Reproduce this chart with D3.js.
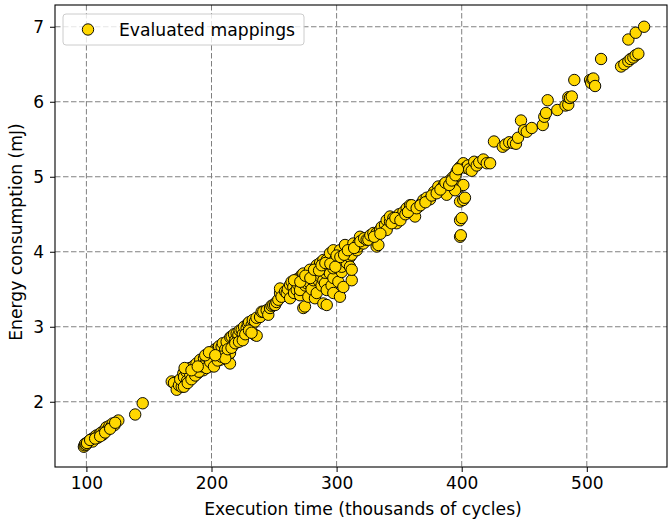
<!DOCTYPE html>
<html>
<head>
<meta charset="utf-8">
<script src="https://cdn.jsdelivr.net/npm/d3@7"></script>
<style>
  body { margin: 0; background: #fff; }
  svg { display: block; font-family: "DejaVu Sans", sans-serif; }
</style>
</head>
<body>
<svg id="chart" width="668" height="526"></svg>
<script>
// Execution time (thousands of cycles)
const executionTime = [
  98.0,98.5,99.0,100.0,101,102.5,104,105,106.5,108,109,110.5,112,113,114.5,116,117,118.5,120,121,122.5,125.5,
  100.5,103,107,111,115,119,123,
  139,145,
  168.2,170,172.2,174,176.2,175,177.5,178,180,180.5,182.8,183,185.5,186,187,188,189,190.8,191,192,193.5,194,195,196,197,198.8,199,200.5,201.5,202,203,204.1,205,206,207,208.1,209,210,211,212.1,213.5,214.8,214.8,215,216.1,217,218,219,220.1,221.5,222.5,224.1,225,226,228.1,229,230,232.1,233,234.8,234.8,236.1,236,238.8,240.1,241.4,
  178,181,184,187,190,193,196,199,202,205,208,211,213,216,219,222,225,227,230,232,178.5,184,189,195,198,203,
  244.1,245.4,246.8,248,249.4,250.8,252,253.4,254.8,254.8,256,258.8,260.1,261,262.8,262.8,
  264,265.4,266,268.1,268.1,269,270.8,270.8,272.1,273.4,273.4,273.4,274.7,275,276.1,276.1,277.4,278.7,278.7,278.7,280,281.4,282.7,283,284.1,284.1,284.1,285.4,286.7,286.8,288,289.4,289.4,289.4,290.7,291,292.1,292.1,292.1,292.1,294.7,294.7,296,297.4,297.4,297.4,297.4,299,301.4,302.7,302.7,302.7,304.1,304.1,305.4,306.7,308.1,310.7,310.7,312.1,312.1,312.1,313.4,316.1,317.4,317.4,318.7,321.4,
  266,271,275,279,282,286,288,291,295,299,300,303,306,309,314,319,322,
  324,325.4,327,329.4,332,332,333.4,334.7,336,338.7,340,340,342.7,342.7,345.4,348,350,352,353.4,356,358.7,361.4,362.7,365.4,368,369.4,372,374.7,378,381.3,384,386,388,389.3,391,393.3,396,396,398.7,398.7,401.3,401.3,398.7,401.3,402.6,398.7,400,398.7,399.3,388,394.7,403,405,
  330,335,344,347,351,355,357,360,364,367,371,376,380,383,387,390,392,395,397,
  406,408,410,412,414,417.3,420,422.7,425.8,432.8,435,438,441,443.4,445,447.4,449.8,452,456,464.8,466,467.4,468.7,476.4,483,485.2,485.2,486.5,488,490,502.6,503.5,504.5,505.2,506.6,511.4,527.4,530,533.2,535,537.2,539,541.2,533.2,539.1,545.8
];
// Energy consumption (mJ)
const energy = [
  1.40,1.42,1.44,1.43,1.46,1.48,1.50,1.47,1.53,1.55,1.52,1.57,1.59,1.56,1.62,1.66,1.63,1.68,1.67,1.71,1.69,1.75,
  1.45,1.49,1.51,1.54,1.59,1.64,1.72,
  1.83,1.98,
  2.27,2.25,2.16,2.22,2.20,2.30,2.38,2.33,2.40,2.28,2.45,2.36,2.33,2.48,2.42,2.51,2.38,2.51,2.56,2.45,2.42,2.58,2.50,2.55,2.62,2.60,2.47,2.66,2.51,2.58,2.70,2.69,2.63,2.74,2.56,2.73,2.78,2.65,2.70,2.80,2.62,2.51,2.65,2.86,2.87,2.75,2.90,2.82,2.91,2.89,2.95,2.96,2.90,3.00,2.98,3.04,3.06,3.02,3.09,3.07,2.89,2.88,3.12,3.13,3.20,3.20,
  2.20,2.25,2.30,2.35,2.40,2.47,2.45,2.53,2.47,2.55,2.60,2.58,2.70,2.72,2.78,2.80,2.82,2.90,2.95,2.92,2.45,2.42,2.47,2.62,2.66,2.62,
  3.22,3.16,3.25,3.28,3.29,3.29,3.33,3.36,3.45,3.51,3.40,3.47,3.45,3.50,3.38,3.56,
  3.60,3.53,3.45,3.49,3.58,3.64,3.42,3.49,3.69,3.25,3.67,3.71,3.27,3.55,3.58,3.62,3.40,3.73,3.76,3.58,3.50,3.62,3.38,3.70,3.45,3.80,3.82,3.62,3.67,3.85,3.55,3.31,3.62,3.89,3.58,3.72,3.29,3.49,3.76,3.89,3.71,3.98,3.55,3.45,3.65,3.78,4.02,3.90,3.60,3.40,3.87,4.02,3.73,3.80,3.53,4.09,3.85,3.93,3.80,3.62,3.76,3.96,4.11,4.02,4.07,4.11,4.20,4.11,
  3.62,3.60,3.68,3.65,3.76,3.75,3.82,3.85,3.84,3.80,3.95,3.93,3.96,4.02,4.05,4.14,4.18,
  4.16,4.16,4.22,4.25,4.07,4.25,4.09,4.29,4.33,4.36,4.42,4.29,4.40,4.47,4.45,4.38,4.50,4.47,4.53,4.58,4.62,4.56,4.47,4.60,4.65,4.69,4.72,4.70,4.80,4.87,4.85,4.90,4.87,4.93,4.96,5.00,5.07,4.91,5.13,4.87,4.89,5.18,4.67,4.69,4.72,4.42,4.45,4.20,4.22,4.76,4.82,5.12,5.15,
  4.20,4.24,4.38,4.45,4.42,4.50,4.53,4.62,4.58,4.62,4.66,4.75,4.78,4.83,4.92,4.89,4.95,5.02,5.10,
  5.10,5.08,5.20,5.15,5.19,5.23,5.18,5.18,5.47,5.40,5.43,5.46,5.45,5.44,5.52,5.75,5.62,5.60,5.65,5.69,5.80,5.85,6.02,5.89,5.95,5.96,6.06,6.05,6.07,6.29,6.29,6.25,6.30,6.31,6.21,6.57,6.47,6.50,6.54,6.57,6.59,6.62,6.64,6.83,6.92,7.00
];
const xTicks = [100, 200, 300, 400, 500];
const yTicks = [2, 3, 4, 5, 6, 7];
const xLabel = "Execution time (thousands of cycles)";
const yLabel = "Energy consumption (mJ)";
const legendLabel = "Evaluated mappings";

const points = executionTime.map((xv, i) => ({ x: xv, y: energy[i] }));

const svg = d3.select("#chart");
const pL = 55, pR = 667, pT = 5, pB = 467;
const x = d3.scaleLinear().domain([74.9, 564.1]).range([pL, pR]);
const y = d3.scaleLinear().domain([1.13, 7.29]).range([pB, pT]);

// grid
const grid = svg.append("g");
grid.selectAll("line.gx").data(xTicks).join("line")
  .attr("x1", d => x(d)).attr("x2", d => x(d)).attr("y1", pT).attr("y2", pB)
  .attr("stroke", "#808080").attr("stroke-width", 1).attr("stroke-dasharray", "5.5,2.5");
grid.selectAll("line.gy").data(yTicks).join("line")
  .attr("x1", pL).attr("x2", pR).attr("y1", d => y(d)).attr("y2", d => y(d))
  .attr("stroke", "#808080").attr("stroke-width", 1).attr("stroke-dasharray", "5.5,2.5");

// points
svg.append("g").selectAll("circle").data(points).join("circle")
  .attr("cx", d => x(d.x)).attr("cy", d => y(d.y)).attr("r", 5.7)
  .attr("fill", "#FFD700").attr("stroke", "#000").attr("stroke-width", 0.95);

// axes
const xAxis = svg.append("g").attr("transform", `translate(0,${pB})`)
  .call(d3.axisBottom(x).tickValues(xTicks).tickFormat(d3.format("d")).tickSize(5).tickPadding(5));
const yAxis = svg.append("g").attr("transform", `translate(${pL},0)`)
  .call(d3.axisLeft(y).tickValues(yTicks).tickFormat(d3.format("d")).tickSize(5).tickPadding(6));
[xAxis, yAxis].forEach(a => {
  a.select(".domain").remove();
  a.selectAll("text").attr("font-size", 17).attr("fill", "#000").attr("font-family", "DejaVu Sans, sans-serif");
  a.selectAll("line").attr("stroke", "#000").attr("stroke-width", 1);
});

// frame
svg.append("rect").attr("x", pL).attr("y", pT).attr("width", pR - pL).attr("height", pB - pT)
  .attr("fill", "none").attr("stroke", "#000").attr("stroke-width", 1.1);

// labels
svg.append("text").attr("x", 363).attr("y", 515).attr("text-anchor", "middle")
  .attr("font-size", 17.2).text(xLabel);
svg.append("text").attr("transform", `translate(22,232) rotate(-90)`)
  .attr("text-anchor", "middle").attr("font-size", 17.2).text(yLabel);

// legend
const lg = svg.append("g").attr("transform", "translate(63,14)");
lg.append("rect").attr("width", 241).attr("height", 31).attr("rx", 3)
  .attr("fill", "#fff").attr("fill-opacity", 0.8).attr("stroke", "#ccc").attr("stroke-width", 1);
lg.append("circle").attr("cx", 25).attr("cy", 15.5).attr("r", 5.7)
  .attr("fill", "#FFD700").attr("stroke", "#000").attr("stroke-width", 0.95);
lg.append("text").attr("x", 56).attr("y", 21.5).attr("font-size", 17.2).text(legendLabel);
</script>
</body>
</html>
